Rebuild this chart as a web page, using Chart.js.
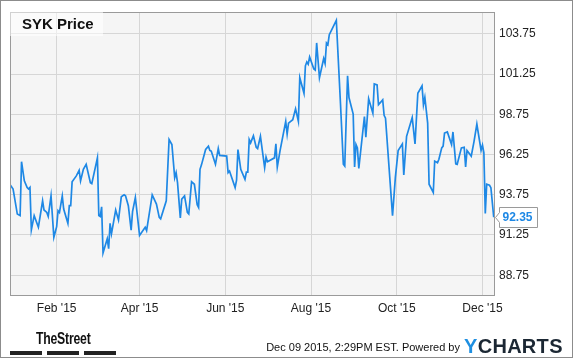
<!DOCTYPE html>
<html>
<head>
<meta charset="utf-8">
<script src="https://cdn.jsdelivr.net/npm/chart.js@4.4.1/dist/chart.umd.min.js"></script>
<style>
  html, body { margin: 0; padding: 0; background: #ffffff; }
  #wrap { position: relative; width: 575px; height: 358px; overflow: hidden; font-family: "Liberation Sans", Arial, sans-serif; }
  #c { position: absolute; left: 0; top: 0; }
  #frame { position: absolute; left: 0; top: 0; width: 571px; height: 356px; border: 1px solid #8c8c8c; pointer-events: none; }
  #titlebox { position: absolute; left: 10px; top: 10px; width: 93px; height: 26px; background: rgba(255,255,255,0.55); }
  #title { position: absolute; left: 22px; top: 15px; font-weight: bold; font-size: 15px; color: #111; white-space: nowrap; }
  #stamp { position: absolute; right: 115px; top: 341px; font-size: 11px; color: #111; white-space: nowrap; }
  #ych { position: absolute; left: 464px; top: 335px; font-size: 20px; font-weight: bold; color: #1b2733; white-space: nowrap; letter-spacing: 0.3px; }
  #ych span { color: #1e8fe1; }
  #ts { position: absolute; left: 36px; top: 329px; font-size: 17px; font-weight: bold; color: #111; white-space: nowrap; transform: scaleX(0.72); transform-origin: left top; letter-spacing: -0.3px; }
  .bar { position: absolute; top: 351px; height: 4px; background: #222; }
</style>
</head>
<body>
<div id="wrap">
  <canvas id="c" width="575" height="358" style="width:575px;height:358px"></canvas>
  <div id="titlebox"></div>
  <div id="title">SYK Price</div>
  <div id="ts">TheStreet</div>
  <div class="bar" style="left:10px;width:32px"></div>
  <div class="bar" style="left:47px;width:32px"></div>
  <div class="bar" style="left:84px;width:32px"></div>
  <div id="stamp">Dec 09 2015, 2:29PM EST. Powered by</div>
  <div id="ych"><span>Y</span>CHARTS</div>
  <div id="frame"></div>
</div>
<script>
// Day of year 2015 (0 = Jan 1) for each traced point
const tradingDays = [
  -2, 0, 3, 5, 6, 8, 10, 11, 12, 13, 15, 18, 21, 22, 24, 25, 27, 29, 31, 32,
  33, 35, 36, 39, 40, 41, 42, 45, 47, 48, 50, 52, 55, 56, 60, 61, 62, 63, 64, 67,
  68, 69, 70, 73, 75, 77, 79, 80, 82, 84, 85, 87, 90, 94, 95, 99, 102, 104, 105, 109,
  111, 113, 115, 116, 117, 119, 120, 122, 124, 125, 127, 129, 131, 132, 133, 134, 137, 139, 140, 141,
  144, 146, 147, 152, 153, 154, 158, 159, 160, 162, 165, 166, 167, 168, 169, 171, 173, 174, 176, 179,
  180, 181, 186, 187, 188, 190, 194, 195, 196, 199, 201, 203, 204, 207, 208, 209, 210, 211, 214, 215,
  216, 218, 221, 222, 223, 224, 225, 230, 233, 235, 236, 238, 239, 242, 243, 244, 245, 246, 250, 251,
  253, 256, 257, 259, 260, 263, 264, 265, 270, 272, 274, 277, 278, 280, 284, 286, 288, 291, 292, 293,
  295, 296, 299, 300, 302, 303, 305, 306, 307, 309, 312, 313, 315, 316, 319, 321, 322, 323, 326, 328,
  330, 333, 334, 335, 336, 337, 339, 340, 342
];
const prices = [
  94.36, 94.10, 92.55, 92.45, 95.80, 94.61, 94.19, 94.10, 94.20, 91.57, 92.45, 91.73, 93.37, 92.80, 92.65, 92.40, 93.68, 91.11, 91.77, 92.76,
  92.65, 93.68, 92.86, 91.97, 93.07, 93.07, 94.55, 94.92, 95.27, 94.61, 95.33, 95.64, 94.50, 94.44, 96.04, 92.45, 92.39, 93.00, 90.13, 91.01,
  90.40, 91.97, 91.32, 92.80, 92.18, 93.62, 93.74, 93.68, 93.07, 91.55, 92.70, 93.58, 91.22, 91.73, 91.52, 93.74, 93.17, 92.34, 92.25, 93.37,
  97.18, 96.87, 94.81, 95.12, 94.50, 92.31, 93.48, 93.68, 92.65, 92.55, 94.56, 94.40, 93.13, 92.96, 95.33, 95.59, 96.56, 96.77, 96.50, 96.46,
  95.64, 96.62, 96.19, 96.15, 95.12, 95.22, 94.19, 94.65, 96.56, 95.33, 94.71, 95.16, 95.16, 97.18, 96.97, 97.41, 96.70, 96.62, 97.38, 95.43,
  96.09, 95.80, 96.04, 96.91, 95.47, 96.50, 98.31, 97.52, 98.20, 98.41, 99.09, 98.31, 101.02, 100.05, 101.76, 102.00, 101.86, 102.31, 101.56, 101.49,
  103.18, 101.02, 102.21, 101.90, 103.18, 103.07, 103.69, 104.58, 99.34, 95.64, 95.53, 101.14, 99.79, 98.76, 95.47, 96.87, 96.66, 95.39, 98.61, 97.32,
  99.71, 98.82, 100.63, 100.57, 99.34, 99.64, 98.68, 98.51, 92.45, 94.81, 96.50, 96.91, 94.98, 97.38, 98.55, 96.91, 100.05, 100.51, 99.34, 99.79,
  98.20, 94.40, 93.89, 95.84, 95.74, 95.95, 96.66, 96.77, 97.58, 97.65, 96.87, 97.65, 95.67, 95.64, 96.66, 96.70, 95.47, 96.50, 96.15, 97.07,
  98.14, 96.50, 96.83, 96.35, 92.59, 94.40, 94.34, 94.19, 92.35
];
const monthTicks = [31, 90, 151, 212, 273, 334];
const monthLabels = ["Feb '15", "Apr '15", "Jun '15", "Aug '15", "Oct '15", "Dec '15"];
const priceTicks = [88.75, 91.25, 93.75, 96.25, 98.75, 101.25, 103.75];

const LINE = '#1e88e5';
const FONT = '"Liberation Sans", Arial, sans-serif';

const plotBg = {
  id: 'plotBg',
  beforeDraw(chart) {
    const a = chart.chartArea, ctx = chart.ctx;
    ctx.save();
    ctx.fillStyle = '#f5f5f5';
    ctx.fillRect(a.left, a.top, a.right - a.left, a.bottom - a.top);
    ctx.restore();
  },
  afterDraw(chart) {
    const a = chart.chartArea, ctx = chart.ctx;
    ctx.save();
    ctx.strokeStyle = '#9a9a9a';
    ctx.lineWidth = 1;
    ctx.strokeRect(Math.round(a.left) + 0.5, Math.round(a.top) + 0.5, Math.round(a.right - a.left), Math.round(a.bottom - a.top));
    // last value flag
    const ys = chart.scales.y;
    const last = prices[prices.length - 1];
    const y = Math.round(ys.getPixelForValue(last)) + 0.5;
    const x0 = Math.round(a.right) + 1.5;
    const bx = x0 + 4, bw = 38, h = 10;
    ctx.beginPath();
    ctx.moveTo(x0, y);
    ctx.lineTo(bx, y - 5);
    ctx.lineTo(bx, y - h);
    ctx.lineTo(bx + bw, y - h);
    ctx.lineTo(bx + bw, y + h);
    ctx.lineTo(bx, y + h);
    ctx.lineTo(bx, y + 5);
    ctx.closePath();
    ctx.fillStyle = '#ffffff';
    ctx.fill();
    ctx.strokeStyle = '#9a9a9a';
    ctx.stroke();
    ctx.fillStyle = LINE;
    ctx.font = 'bold 12px ' + FONT;
    ctx.textBaseline = 'middle';
    ctx.textAlign = 'left';
    ctx.fillText(last.toFixed(2), bx + 3, y + 0.5);
    ctx.restore();
  }
};

new Chart(document.getElementById('c'), {
  type: 'line',
  data: {
    datasets: [{
      data: tradingDays.map((d, i) => ({ x: d, y: prices[i] })),
      borderColor: LINE,
      borderWidth: 1.7,
      pointRadius: 0,
      tension: 0,
      fill: false
    }]
  },
  options: {
    responsive: false,
    animation: false,
    layout: { padding: { left: 10, top: 10, right: 0, bottom: 0 } },
    plugins: { legend: { display: false }, tooltip: { enabled: false } },
    scales: {
      x: {
        type: 'linear',
        min: -2.2,
        max: 342.2,
        afterBuildTicks(scale) { scale.ticks = monthTicks.map(v => ({ value: v })); },
        afterFit(scale) { scale.height = 63; },
        ticks: {
          autoSkip: false,
          maxRotation: 0,
          padding: 6,
          color: '#222',
          font: { family: FONT, size: 12 },
          callback(v) { const i = monthTicks.indexOf(v); return i >= 0 ? monthLabels[i] : ''; }
        },
        grid: { color: '#d6d6d6', lineWidth: 1, drawTicks: false },
        border: { display: false }
      },
      y: {
        position: 'right',
        min: 87.52,
        max: 105.09,
        afterBuildTicks(scale) { scale.ticks = priceTicks.map(v => ({ value: v })); },
        afterFit(scale) { scale.width = 81; },
        ticks: {
          padding: 5,
          color: '#222',
          font: { family: FONT, size: 12 },
          callback(v) { return Number(v).toFixed(2); }
        },
        grid: { color: '#d6d6d6', lineWidth: 1, drawTicks: false },
        border: { display: false }
      }
    }
  },
  plugins: [plotBg]
});
</script>
</body>
</html>
